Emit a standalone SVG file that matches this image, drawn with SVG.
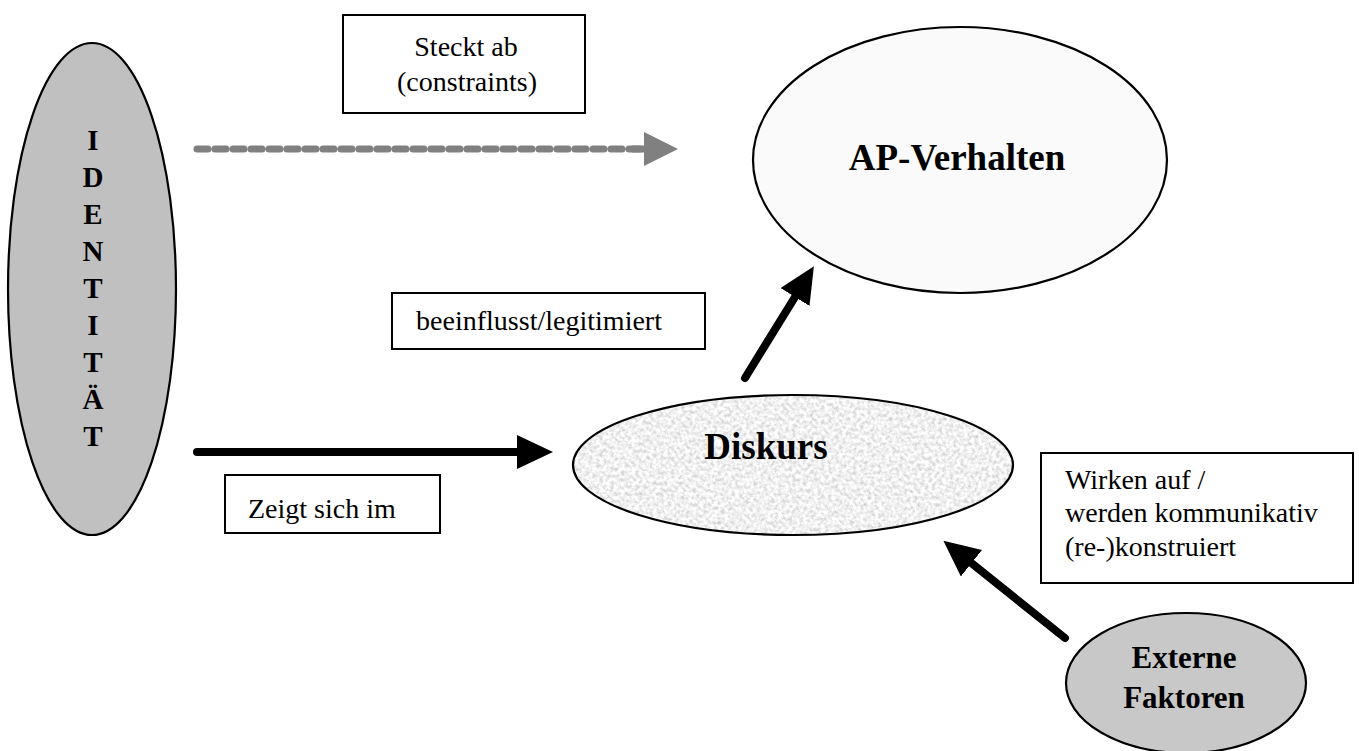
<svg xmlns="http://www.w3.org/2000/svg" width="1359" height="751" viewBox="0 0 1359 751">
  <style>
    .node { stroke: #000; stroke-width: 2.2; }
    .box { fill: #fff; stroke: #000; stroke-width: 2; }
    .lbl { font-family: "Liberation Serif", "Times New Roman", serif; font-size: 28px; fill: #000; }
    .big { font-family: "Liberation Serif", "Times New Roman", serif; font-weight: bold; fill: #000; }
    .arrow { stroke: #000; stroke-width: 8; stroke-linecap: round; fill: none; }
    .dashed { stroke: #808080; stroke-width: 7; stroke-linecap: round; stroke-dasharray: 11 7; fill: none; }
  </style>
  <defs>
    <marker id="head-black" viewBox="0 0 36 34" refX="0" refY="17" markerWidth="36" markerHeight="34" markerUnits="userSpaceOnUse" orient="auto">
      <path d="M0,0 L36,17 L0,34 Z" fill="#000"/>
    </marker>
    <marker id="head-gray" viewBox="0 0 34 34" refX="0" refY="17" markerWidth="34" markerHeight="34" markerUnits="userSpaceOnUse" orient="auto">
      <path d="M0,0 L34,17 L0,34 Z" fill="#808080"/>
    </marker>
    <!-- granite-like paper grain for the discourse ellipse -->
    <filter id="grain" x="0" y="0" width="100%" height="100%">
      <feTurbulence type="fractalNoise" baseFrequency="0.28" numOctaves="3" seed="7" result="noise"/>
      <feColorMatrix in="noise" type="matrix" values="0.75 0 0 0 0.5  0.75 0 0 0 0.5  0.75 0 0 0 0.5  0 0 0 0 1" result="gray"/>
      <feComposite in="gray" in2="SourceGraphic" operator="in"/>
    </filter>
  </defs>

  <rect width="1359" height="751" fill="#fff"/>

  <!-- connectors -->
  <g id="connectors">
    <line class="dashed" x1="197" y1="149" x2="640" y2="149"/>
    <line x1="632" y1="149" x2="644" y2="149" stroke="#808080" stroke-width="7" marker-end="url(#head-gray)"/>
    <line class="arrow" x1="197" y1="452" x2="517" y2="452" marker-end="url(#head-black)"/>
    <line class="arrow" x1="745" y1="378" x2="795" y2="297" marker-end="url(#head-black)"/>
    <line class="arrow" x1="1065" y1="638" x2="971.5" y2="563.2" marker-end="url(#head-black)"/>
  </g>

  <!-- Identität -->
  <g id="identitaet">
    <ellipse class="node" cx="92" cy="289" rx="84" ry="246" fill="#c0c0c0"/>
    <g class="big" font-size="29" text-anchor="middle">
      <text x="93" y="150">I</text>
      <text x="93" y="187">D</text>
      <text x="93" y="224">E</text>
      <text x="93" y="261">N</text>
      <text x="93" y="298">T</text>
      <text x="93" y="335">I</text>
      <text x="93" y="372">T</text>
      <text x="93" y="409">Ä</text>
      <text x="93" y="446">T</text>
    </g>
  </g>

  <!-- AP-Verhalten -->
  <g id="ap-verhalten">
    <ellipse class="node" cx="960" cy="160" rx="207" ry="133" fill="#fafafa"/>
    <text class="big" x="957" y="170" font-size="37" text-anchor="middle">AP-Verhalten</text>
  </g>

  <!-- Diskurs -->
  <g id="diskurs">
    <ellipse cx="793" cy="465" rx="220" ry="70" fill="#fff" filter="url(#grain)"/>
    <ellipse class="node" cx="793" cy="465" rx="220" ry="70" fill="none"/>
    <text class="big" x="766" y="459" font-size="37" text-anchor="middle">Diskurs</text>
  </g>

  <!-- Externe Faktoren -->
  <g id="externe-faktoren">
    <ellipse class="node" cx="1186" cy="683" rx="120" ry="70" fill="#c8c8c8"/>
    <text class="big" x="1184" y="668" font-size="31" text-anchor="middle">Externe</text>
    <text class="big" x="1184" y="708" font-size="31" text-anchor="middle">Faktoren</text>
  </g>

  <!-- edge labels -->
  <g id="label-steckt-ab">
    <rect class="box" x="343" y="15" width="242" height="98"/>
    <text class="lbl" x="466" y="56" font-size="30" text-anchor="middle">Steckt ab</text>
    <text class="lbl" x="467" y="91" font-size="30" text-anchor="middle">(constraints)</text>
  </g>

  <g id="label-beeinflusst">
    <rect class="box" x="392" y="293" width="313" height="56"/>
    <text class="lbl" x="416" y="330" textLength="246" lengthAdjust="spacingAndGlyphs">beeinflusst/legitimiert</text>
  </g>

  <g id="label-zeigt">
    <rect class="box" x="225" y="475" width="215" height="58"/>
    <text class="lbl" x="248" y="518">Zeigt sich im</text>
  </g>

  <g id="label-wirken">
    <rect class="box" x="1041" y="453" width="312" height="130"/>
    <text class="lbl" x="1065" y="489">Wirken auf /</text>
    <text class="lbl" x="1065" y="522">werden kommunikativ</text>
    <text class="lbl" x="1065" y="556">(re-)konstruiert</text>
  </g>
</svg>
